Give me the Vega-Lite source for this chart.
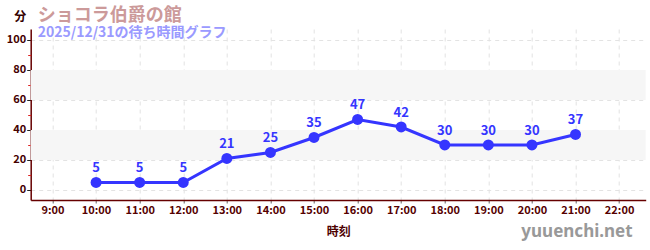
{
  "$schema": "https://vega.github.io/schema/vega-lite/v6.json",
  "width": 615,
  "height": 171,
  "autosize": "none",
  "padding": {"left": 30.7, "top": 29, "right": 4.3, "bottom": 50},
  "background": "white",
  "config": {"view": {"stroke": null}, "font": "Noto Sans CJK JP"},
  "title": {
    "text": "ショコラ伯爵の館",
    "subtitle": "2025/12/31の待ち時間グラフ",
    "anchor": "start",
    "frame": "group",
    "dx": 7,
    "offset": -30,
    "fontSize": 18,
    "fontWeight": "bold",
    "color": "#cc9a9a",
    "subtitleFontSize": 14,
    "subtitleFontWeight": "bold",
    "subtitleColor": "#9a9aff",
    "subtitlePadding": 1
  },
  "datasets": {
    "wait": [
      {"hour": 10, "wait": 5},
      {"hour": 11, "wait": 5},
      {"hour": 12, "wait": 5},
      {"hour": 13, "wait": 21},
      {"hour": 14, "wait": 25},
      {"hour": 15, "wait": 35},
      {"hour": 16, "wait": 47},
      {"hour": 17, "wait": 42},
      {"hour": 18, "wait": 30},
      {"hour": 19, "wait": 30},
      {"hour": 20, "wait": 30},
      {"hour": 21, "wait": 37}
    ],
    "bands": [
      {"lo": 20, "hi": 40},
      {"lo": 60, "hi": 80}
    ],
    "mark": [
      {"hour": 22.31, "wait": -31.3, "label": "yuuenchi.net"}
    ]
  },
  "resolve": {"axis": {"y": "independent"}},
  "layer": [
    {
      "data": {"name": "bands"},
      "mark": {"type": "rect", "color": "#f6f6f6"},
      "encoding": {
        "y": {
          "field": "lo", "type": "quantitative",
          "scale": {"domain": [-6.67, 107.33], "nice": false, "zero": false},
          "axis": {
            "orient": "left",
            "values": [0, 20, 40, 60, 80, 100],
            "labelOverlap": false,
            "title": "分",
            "titleAngle": 0,
            "titleX": -11,
            "titleY": -9,
            "titleAlign": "center",
            "titleBaseline": "alphabetic",
            "titleFontSize": 12,
            "titleFontWeight": "bold",
            "titleColor": "#330000",
            "labelFontSize": 11,
            "labelFontWeight": "bold",
            "labelColor": "#440000",
            "labelPadding": 1,
            "domainColor": "#660000",
            "domainWidth": 1.5,
            "tickColor": "#222222",
            "tickSize": 4,
            "grid": true,
            "gridColor": "#e3e3e3",
            "gridDash": [4, 4]
          }
        },
        "y2": {"field": "hi"}
      }
    },
    {
      "data": {"name": "wait"},
      "mark": {"type": "line", "color": "#3535ff", "strokeWidth": 3},
      "encoding": {
        "x": {
          "field": "hour", "type": "quantitative",
          "scale": {"domain": [8.5, 22.61], "nice": false, "zero": false},
          "axis": {
            "values": [9,10,11,12,13,14,15,16,17,18,19,20,21,22],
            "labelExpr": "datum.value + ':00'",
            "labelOverlap": false,
            "title": "時刻",
            "titleFontSize": 12,
            "titleFontWeight": "bold",
            "titleColor": "#4d0000",
            "titlePadding": 11,
            "labelFontSize": 11,
            "labelFontWeight": "bold",
            "labelColor": "#550000",
            "labelPadding": 1,
            "domainColor": "#660000",
            "domainWidth": 1.5,
            "tickColor": "#666666",
            "tickSize": 3,
            "grid": true,
            "gridColor": "#e3e3e3",
            "gridDash": [4, 4]
          }
        },
        "y": {
          "field": "wait", "type": "quantitative",
          "axis": {
            "orient": "left",
            "values": [10, 30, 50, 70, 90],
            "labels": false,
            "domain": false,
            "grid": false,
            "title": null,
            "tickColor": "#dd2222",
            "tickSize": 3
          }
        }
      }
    },
    {
      "data": {"name": "wait"},
      "mark": {"type": "point", "filled": true, "size": 120, "color": "#3535ff", "opacity": 1},
      "encoding": {
        "x": {"field": "hour", "type": "quantitative"},
        "y": {"field": "wait", "type": "quantitative", "axis": null}
      }
    },
    {
      "data": {"name": "wait"},
      "mark": {"type": "text", "color": "#3535ff", "fontSize": 13, "fontWeight": "bold", "baseline": "alphabetic", "dy": -10},
      "encoding": {
        "x": {"field": "hour", "type": "quantitative"},
        "y": {"field": "wait", "type": "quantitative", "axis": null},
        "text": {"field": "wait", "type": "quantitative"}
      }
    },
    {
      "data": {"name": "mark"},
      "mark": {"type": "text", "color": "#999999", "fontSize": 17, "fontWeight": "bold", "font": "Noto Sans", "align": "right", "baseline": "alphabetic"},
      "encoding": {
        "x": {"field": "hour", "type": "quantitative"},
        "y": {"field": "wait", "type": "quantitative", "axis": null},
        "text": {"field": "label", "type": "nominal"}
      }
    }
  ]
}
